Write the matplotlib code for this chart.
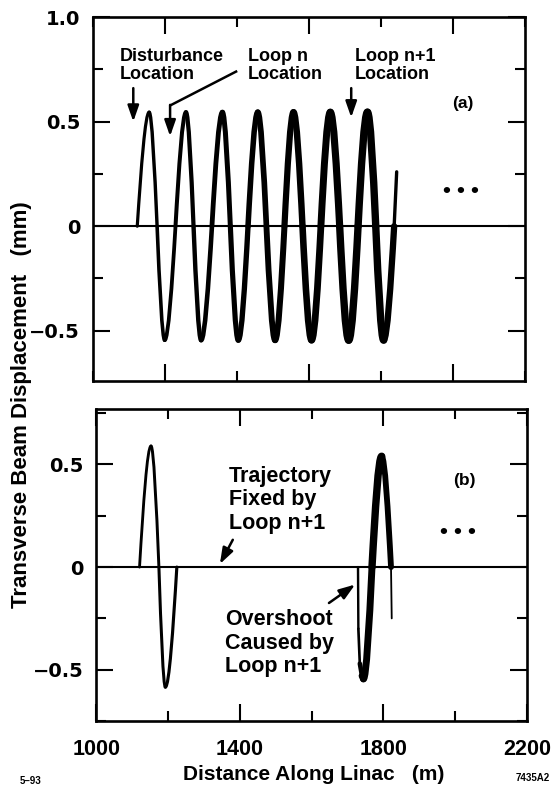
import numpy as np
import matplotlib
matplotlib.use("Agg")
import matplotlib.pyplot as plt
from matplotlib.path import Path
from matplotlib.patches import PathPatch
from matplotlib.ticker import MultipleLocator

plt.rcParams['font.family'] = ['Liberation Sans', 'DejaVu Sans']
plt.rcParams['font.weight'] = 'bold'

# panel (a): zero crossings / extrema of the trajectory
# distance along linac (m), offset (mm)
traj_a_x = [1124, 1157, 1179, 1200, 1230, 1259, 1280, 1301, 1331, 1360, 1382, 1404,
            1431, 1458, 1482, 1506, 1532, 1557, 1582, 1607, 1633, 1659, 1685, 1710,
            1736, 1762, 1785, 1807, 1836, 1843]
traj_a_y = [0, 0.545, 0, -0.545, 0, 0.545, 0, -0.545, 0, 0.545, 0, -0.545,
            0, 0.545, 0, -0.545, 0, 0.545, 0, -0.545, 0, 0.545, 0, -0.545,
            0, 0.545, 0, -0.545, 0, 0.26]

# panel (b): first oscillation, corrected by loop n
kick_b_x = [1120, 1152, 1174, 1192, 1224]
kick_b_y = [0, 0.59, 0, -0.585, 0]

# panel (b): overshoot caused by loop n+1
over_b_x = [1729, 1730, 1734, 1740, 1744, 1768, 1795, 1821, 1823]
over_b_y = [0, -0.30, -0.47, -0.53, -0.545, 0, 0.54, 0, -0.25]

x_ticks = [1000, 1400, 1800, 2200]
ya_ticks = [-0.5, 0, 0.5, 1.0]
yb_ticks = [-0.5, 0, 0.5]


def fmt(v):
    return '0' if v == 0 else f'{v:.1f}'.replace('-', '\u2212')


def wave(ax, xs, ys, wx, ww):
    # quarter waves between crossings and extrema drawn as smooth curves,
    # line gets fatter along the linac (spread of the beam)
    for x0, y0, x1, y1 in zip(xs[:-1], ys[:-1], xs[1:], ys[1:]):
        w = np.interp((x0 + x1) / 2, wx, ww)
        d = x1 - x0
        if y0 == 0 and abs(y1) > 0.5:
            verts = [(x0, y0), (x0 + 0.33 * d, 0.52 * y1), (x0 + 0.67 * d, y1), (x1, y1)]
            codes = [Path.MOVETO, Path.CURVE4, Path.CURVE4, Path.CURVE4]
        elif y1 == 0 and abs(y0) > 0.5:
            verts = [(x0, y0), (x0 + 0.33 * d, y0), (x1 - 0.33 * d, 0.52 * y0), (x1, y1)]
            codes = [Path.MOVETO, Path.CURVE4, Path.CURVE4, Path.CURVE4]
        else:
            verts = [(x0, y0), (x1, y1)]
            codes = [Path.MOVETO, Path.LINETO]
        ax.add_patch(PathPatch(Path(verts, codes), fill=False, lw=w, edgecolor='black',
                               capstyle='round', joinstyle='round', zorder=3))


def arrow(ax, start, tip):
    ax.annotate('', xy=tip, xytext=start,
                arrowprops=dict(arrowstyle='-|>,head_length=0.8,head_width=0.28',
                                lw=1.8, color='black', mutation_scale=12,
                                shrinkA=0, shrinkB=0))


def style(ax, yticks):
    ax.set_xlim(1000, 2200)
    ax.xaxis.set_major_locator(MultipleLocator(400))
    ax.xaxis.set_minor_locator(MultipleLocator(200))
    ax.yaxis.set_minor_locator(MultipleLocator(0.25))
    ax.tick_params(which='both', direction='in', top=True, right=True, width=1.5)
    ax.tick_params(which='major', length=12)
    ax.tick_params(which='minor', length=7)
    ax.tick_params(axis='y', pad=9)
    ax.tick_params(axis='x', pad=13, labelsize=15.5)
    ax.set_yticks(yticks)
    ax.set_yticklabels([fmt(v) for v in yticks], fontfamily='DejaVu Sans',
                       fontsize=14, fontweight='bold')
    for s in ax.spines.values():
        s.set_linewidth(1.9)
    ax.axhline(0, color='black', lw=1.5, zorder=2)


fig = plt.figure(figsize=(5.51, 7.88), dpi=100)
ax1 = fig.add_axes([0.1679, 0.5165, 0.7858, 0.4619])
ax2 = fig.add_axes([0.1751, 0.0850, 0.7813, 0.3959])

# ---- panel (a)
style(ax1, ya_ticks)
ax1.set_ylim(-0.74, 1.0)
ax1.tick_params(axis='x', labelbottom=False)
wave(ax1, traj_a_x, traj_a_y,
     [1124, 1350, 1550, 1700, 1815, 1843], [2.2, 3.5, 4.5, 5.3, 5.3, 2.0])

ax1.text(1076, 0.767, 'Disturbance\nLocation', fontsize=13, ha='left', va='center',
         linespacing=1.1)
ax1.text(1430, 0.767, 'Loop n\nLocation', fontsize=13, ha='left', va='center',
         linespacing=1.1)
ax1.text(1727, 0.767, 'Loop n+1\nLocation', fontsize=13, ha='left', va='center',
         linespacing=1.1)
ax1.text(2025, 0.588, '(a)', fontsize=12.5, ha='center', va='center')
ax1.text(2022, 0.166, '\u2022 \u2022 \u2022', fontsize=16, ha='center', va='center')

arrow(ax1, (1113, 0.66), (1113, 0.50))
ax1.plot([1401, 1215], [0.742, 0.577], color='black', lw=1.8,
         solid_capstyle='butt')
arrow(ax1, (1215, 0.58), (1215, 0.43))
arrow(ax1, (1717, 0.66), (1717, 0.52))

# ---- panel (b)
style(ax2, yb_ticks)
ax2.set_ylim(-0.75, 0.77)
ax2.set_xticks(x_ticks)
ax2.set_xticklabels([str(v) for v in x_ticks])
wave(ax2, kick_b_x, kick_b_y, [1120, 1224], [2.0, 2.3])
wave(ax2, over_b_x, over_b_y,
     [1729, 1733, 1742, 1795, 1812, 1821, 1822], [1.7, 2.0, 4.8, 5.5, 3.8, 3.0, 1.3])

ax2.text(1369, 0.328, 'Trajectory\nFixed by\nLoop n+1', fontsize=15.5, ha='left',
         va='center', linespacing=1.15)
ax2.text(1358, -0.37, 'Overshoot\nCaused by\nLoop n+1', fontsize=15.5, ha='left',
         va='center', linespacing=1.15)
ax2.text(2025, 0.42, '(b)', fontsize=12.5, ha='center', va='center')
ax2.text(2008, 0.17, '\u2022 \u2022 \u2022', fontsize=16, ha='center', va='center')

arrow(ax2, (1380, 0.133), (1344, 0.015))
arrow(ax2, (1648, -0.175), (1721, -0.085))

fig.text(0.039, 0.487, 'Transverse Beam Displacement   (mm)', rotation=90,
         ha='center', va='center', fontsize=16)
fig.text(0.570, 0.0165, 'Distance Along Linac   (m)', ha='center', va='center',
         fontsize=15)
fig.text(0.036, 0.002, '5\u201393', ha='left', va='bottom', fontsize=7)
fig.text(0.998, 0.0127, '7435A2', ha='right', va='center', fontsize=7)

fig.savefig('out.png', dpi=100)
